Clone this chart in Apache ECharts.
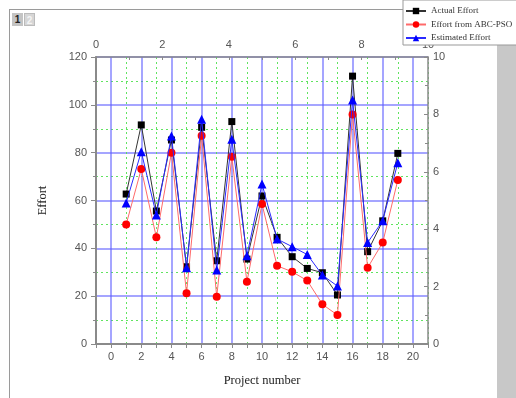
<!DOCTYPE html>
<html><head><meta charset="utf-8">
<script src="https://cdn.jsdelivr.net/npm/echarts@6/dist/echarts.min.js"></script>
<style>
html,body{margin:0;padding:0;background:#fff;}
#wrap{position:relative;width:516px;height:398px;overflow:hidden;background:#fff;}
#frame{position:absolute;left:9px;top:9px;width:600px;height:500px;border-left:1px solid #9a9a9a;border-top:1px solid #9a9a9a;}
#bar{position:absolute;left:497px;top:10px;width:19px;height:388px;background:#c8c8c8;}
.tab{position:absolute;top:13px;width:11px;height:13px;font:bold 10px 'Liberation Sans',sans-serif;text-align:center;line-height:13px;}
#t1{left:12px;background:#c4c4c4;color:#222;}
#t2{left:24px;background:#d6d6d6;color:#f4f4f4;border:1px solid #bbb;box-sizing:border-box;}
#chart{position:absolute;left:0;top:0;width:516px;height:398px;}
</style></head>
<body><div id="wrap"><div id="frame"></div><div id="bar"></div>
<div class="tab" id="t1">1</div><div class="tab" id="t2">2</div>
<div id="chart"></div></div>
<script>
const projects = [1,2,3,4,5,6,7,8,9,10,11,12,13,14,15,16,17,18,19];
const actualEffort = [62.7,91.6,55.6,85.3,32.3,90.6,34.8,93,35.5,61.9,44.6,36.5,31.6,29.8,20.5,112,38.6,51.5,79.7];
const abcPsoEffort = [50,73.2,44.6,80,21.2,87.1,19.8,78.3,26,58.5,32.7,30.2,26.5,16.6,12.1,96,31.9,42.4,68.6];
const estimatedEffort = [59,80.4,53.9,87,31.9,94,30.9,85.6,36.9,66.9,43.9,40.7,37.4,28.8,24.2,102,42.4,51.5,75.8];
const seriesNames = ['Actual Effort','Effort from ABC-PSO','Estimated Effort'];

const BLUE = 'rgba(95,95,255,0.75)';
const GREEN = 'rgba(80,225,80,0.9)';
const AX = '#8a8a8a';
const LBL = {color:'#555', fontSize:11, fontFamily:'Liberation Sans'};
const SERIF = 'Liberation Serif';

function pts(vals){ return projects.map((p,i)=>[p, vals[i]]); }

const chart = echarts.init(document.getElementById('chart'), null, {renderer:'canvas'});
chart.setOption({
  animation:false,
  backgroundColor:'transparent',
  grid:{left:96, right:88, top:57, bottom:54, containLabel:false},
  legend:{
    orient:'vertical', left:403, top:0,
    data:seriesNames,
    backgroundColor:'#fff', borderColor:'#999', borderWidth:1,
    padding:[5,40,1,2], itemGap:1.5, itemWidth:20, itemHeight:8,
    textStyle:{fontFamily:SERIF, fontSize:9, color:'#333', lineHeight:12}
  },
  xAxis:[
    {type:'value', position:'bottom', min:-1, max:21, interval:1,
     axisLine:{show:true, onZero:false, lineStyle:{color:AX, width:2}},
     axisTick:{show:true, length:4, lineStyle:{color:AX}},
     axisLabel:Object.assign({margin:7, formatter:v=>(v>=0&&v<=20&&v%2===0)?String(v):''}, LBL),
     splitLine:{show:true, lineStyle:{color:['rgba(0,0,0,0)', BLUE], width:1.5}},
     name:'Project number', nameLocation:'middle', nameGap:30,
     nameTextStyle:{fontFamily:SERIF, fontSize:12.5, color:'#222'}},
    {type:'value', position:'top', min:0, max:10, interval:2,
     axisLine:{show:true, onZero:false, lineStyle:{color:AX, width:1.5}},
     axisTick:{show:true, inside:true, length:3, lineStyle:{color:AX}},
     minorTick:{show:true, splitNumber:2, length:3, lineStyle:{color:AX}},
     axisLabel:Object.assign({margin:7}, LBL),
     splitLine:{show:false}},
    {type:'value', min:-1, max:21, interval:1,
     axisLine:{show:false}, axisTick:{show:false}, axisLabel:{show:false},
     splitLine:{show:true, lineStyle:{color:[GREEN,'rgba(0,0,0,0)'], type:[2,3], width:1}}}
  ],
  yAxis:[
    {type:'value', position:'left', min:0, max:120, interval:20,
     axisLine:{show:true, onZero:false, lineStyle:{color:AX, width:2}},
     axisTick:{show:true, length:5, lineStyle:{color:AX}},
     minorTick:{show:true, splitNumber:2, length:3, lineStyle:{color:AX}},
     axisLabel:Object.assign({margin:9}, LBL),
     splitLine:{show:true, lineStyle:{color:BLUE, width:1.5}},
     minorSplitLine:{show:true, lineStyle:{color:GREEN, type:[2,3], width:1}},
     name:'Effort', nameLocation:'middle', nameGap:47, nameRotate:90,
     nameTextStyle:{fontFamily:SERIF, fontSize:12.5, color:'#222'}},
    {type:'value', position:'right', min:0, max:10, interval:2,
     axisLine:{show:true, onZero:false, lineStyle:{color:AX, width:1.5}},
     axisTick:{show:true, inside:true, length:4, lineStyle:{color:AX}},
     minorTick:{show:true, splitNumber:2, length:3, lineStyle:{color:AX}},
     axisLabel:Object.assign({margin:5}, LBL),
     splitLine:{show:false}}
  ],
  series:[
    {name:seriesNames[0], type:'line', xAxisIndex:0, yAxisIndex:0, data:pts(actualEffort),
     symbol:'rect', symbolSize:7, itemStyle:{color:'#000'}, lineStyle:{color:'#333', width:1}, z:3},
    {name:seriesNames[1], type:'line', xAxisIndex:0, yAxisIndex:0, data:pts(abcPsoEffort),
     symbol:'circle', symbolSize:8, itemStyle:{color:'#ff0000'}, lineStyle:{color:'#ff6a6a', width:1}, z:4},
    {name:seriesNames[2], type:'line', xAxisIndex:0, yAxisIndex:0, data:pts(estimatedEffort),
     symbol:'triangle', symbolSize:9, itemStyle:{color:'#0000ff'}, lineStyle:{color:'#2a2aff', width:1}, z:5}
  ]
});
</script></body></html>
